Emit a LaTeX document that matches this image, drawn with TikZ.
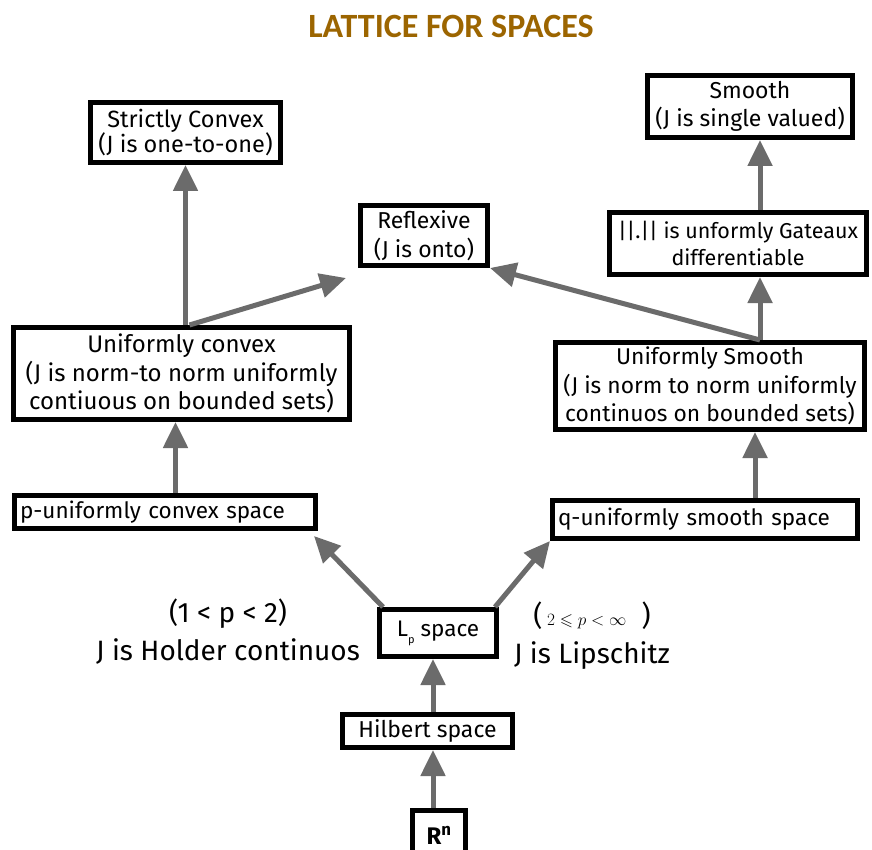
\documentclass[tikz,border=0pt]{standalone}
\usepackage{fontspec}
\usepackage{amssymb}
\setmainfont{Fira Sans}
\newfontfamily\titlefont{Carlito}
\usetikzlibrary{arrows.meta,calc}
\definecolor{titlecol}{HTML}{9C6500}
\definecolor{arrcol}{HTML}{6B6B6B}
\begin{document}
\begin{tikzpicture}[x=1pt,y=-1pt,
  box/.style={draw=black,line width=5pt,fill=white,align=center,inner sep=0pt},
  fs/.style 2 args={font=\fontsize{#1}{#2}\selectfont},
  arr/.style={draw=arrcol,line width=5pt,-{Triangle[length=26pt,width=24pt]}},
  lab/.style={align=center}]
\clip (0,0) rectangle (872,850);
\fill[white] (0,0) rectangle (872,850);
\node[font=\titlefont\bfseries\fontsize{34}{36}\selectfont,text=titlecol] (title) at (451,26) {LATTICE FOR SPACES};

\node[box,fs={23.5}{25},minimum width=190pt,minimum height=60pt] (sc) at (185.5,132.5) {Strictly Convex\\(J is one-to-one)};
\node[box,fs={23}{28},minimum width=205pt,minimum height=62pt] (sm) at (750,106.5) {Smooth\\(J is single valued)};
\node[box,fs={23}{29},minimum width=127pt,minimum height=60pt] (refl) at (424,235.5) {Reflexive\\(J is onto)};
\node[box,fs={21.5}{27},minimum width=257pt,minimum height=62pt] (gat) at (738,243.5) {||.|| is unformly Gateaux\\differentiable};
\node[box,fs={24}{28.5},minimum width=336pt,minimum height=92pt] (ucvx) at (181.5,373.5) {Uniformly convex\\(J is norm-to norm uniformly\\contiuous on bounded sets)};
\node[box,fs={22.8}{28.5},minimum width=309pt,minimum height=87pt] (us) at (710,386) {Uniformly Smooth\\(J is norm to norm uniformly\\continuos on bounded sets)};
\node[box,fs={22.5}{24},minimum width=301pt,minimum height=33pt,text width=290pt,align=left] (pucs) at (165,512) {p-uniformly convex space};
\node[box,fs={22.5}{24},minimum width=305pt,minimum height=38pt,text width=294pt,align=left] (qus) at (705,519.5) {q-uniformly smooth space};
\node[box,fs={22.5}{24},minimum width=117pt,minimum height=47pt] (lp) at (438,633) {L\raisebox{-7pt}{\fontsize{11}{11}\selectfont p} space};
\node[box,fs={23}{24},minimum width=170pt,minimum height=33pt] (hil) at (427.5,731) {Hilbert space};
\node[box,fs={24}{25},minimum width=53pt,minimum height=50pt] (rn) at (439,835) {\textbf{R\textsuperscript{n}}};

\node[lab,fs={28}{38}] (l1) at (228,632) {(1 < p < 2)\\J is Holder continuos};
\node[lab,fs={28}{38}] (l2) at (592,636) {(\,{\fontsize{17}{17}\selectfont$2\leqslant p<\infty$}\; )\\J is Lipschitz};

\coordinate (rx) at ([xshift=50pt]us.north);
\coordinate (px) at ([xshift=-6pt]ucvx.south);
\coordinate (hx) at ([xshift=-5pt]lp.south);
\draw[arr] (sc.south |- ucvx.north) -- (sc.south);
\draw[arr] ([xshift=8pt]ucvx.north) -- ($(refl.south west)+(-12,10)$);
\draw[arr] (rx) -- (refl.south east);
\draw[arr] (rx) -- (rx |- gat.south);
\draw[arr] (rx |- gat.north) -- (rx |- sm.south);
\draw[arr] (px |- pucs.north) -- (px);
\draw[arr] ([xshift=45pt]us.south |- qus.north) -- ([xshift=45pt]us.south);
\draw[arr] ([xshift=6pt]lp.north west) -- ($(pucs.south east)+(-4,5)$);
\draw[arr] ([xshift=-4pt]lp.north east) -- (qus.south west);
\draw[arr] (hx |- hil.north) -- (hx);
\draw[arr] ([xshift=-6pt]rn.north) -- ([xshift=-6pt]rn.north |- hil.south);
\end{tikzpicture}
\end{document}
